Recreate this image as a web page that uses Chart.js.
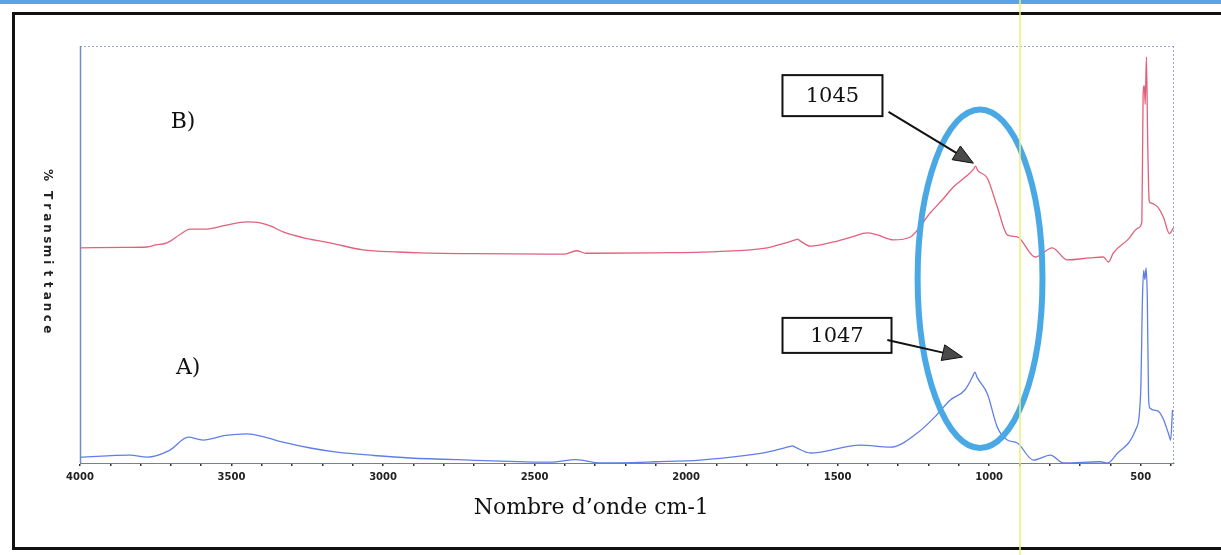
<!DOCTYPE html>
<html>
<head>
<meta charset="utf-8">
<script src="https://cdn.jsdelivr.net/npm/chart.js@4/dist/chart.umd.min.js"></script>
<style>
  html, body { margin: 0; padding: 0; background: #fff; }
  #wrap { width: 1221px; height: 555px; position: relative; }
</style>
</head>
<body>
<div id="wrap"><canvas id="spectre"></canvas></div>
<script>
(function () {
    "use strict";

    // spectre B (rouge)
    var wavenumberB = [4000, 3850, 3779, 3750, 3713, 3670, 3637, 3581, 3520, 3449, 3406, 3370, 3330, 3250, 3175,
        3066, 2950, 2878, 2700, 2448, 2400, 2362, 2330, 2100, 1900, 1732, 1680, 1640, 1633, 1626, 1590, 1514,
        1450, 1402, 1369, 1316, 1260, 1194, 1150, 1118, 1080, 1052, 1045, 1038, 1006, 973, 940, 907, 848, 792,
        742, 666, 623, 606, 590, 543, 507, 496, 492, 488, 485, 481, 477, 472, 468, 455, 444, 425, 405, 392];
    var transB = [51.6, 51.7, 51.8, 52.3, 52.8, 54.8, 56.1, 56.1, 57.0, 57.8, 57.6, 56.8, 55.4, 53.8, 52.8,
        51.1, 50.6, 50.4, 50.2, 50.1, 50.1, 50.9, 50.3, 50.4, 50.7, 51.6, 52.6, 53.5, 53.7, 53.4, 52.0, 53.0,
        54.3, 55.2, 54.7, 53.5, 54.2, 60.0, 63.5, 66.2, 68.5, 70.4, 71.2, 70.2, 68.3, 61.4, 54.7, 54.2, 49.4, 51.6,
        48.7, 49.2, 49.4, 48.2, 50.4, 53.5, 56.4, 57.8, 88.0, 90.5, 86.0, 97.4, 78.0, 63.0, 62.4, 62.0, 61.4,
        59.0, 55.0, 56.4];

    // spectre A (bleu)
    var wavenumberA = [4000, 3835, 3779, 3703, 3643, 3594, 3520, 3449, 3390, 3330, 3240, 3152, 3030, 2911, 2712,
        2448, 2362, 2283, 2100, 1953, 1732, 1660, 1650, 1640, 1590, 1425, 1326, 1237, 1180, 1128, 1080, 1054,
        1047, 1040, 1006, 973, 940, 907, 854, 798, 755, 633, 609, 576, 517, 500, 494, 490, 486, 482, 478, 474,
        470, 444, 425, 408, 401, 395];
    var transA = [1.4, 1.9, 1.4, 3.1, 6.2, 5.5, 6.6, 7.0, 6.2, 5.0, 3.6, 2.6, 1.8, 1.2, 0.7,
        0.2, 0.8, 0.0, 0.3, 0.7, 2.6, 3.9, 4.1, 3.8, 2.4, 4.3, 3.8, 7.2, 11.0, 15.1, 17.5, 20.8,
        21.8, 20.6, 16.6, 8.6, 5.5, 4.8, 0.7, 1.9, 0.0, 0.3, 0.0, 2.4, 7.9, 16.8, 39.8, 46.2, 44.0, 46.8, 39.0,
        16.0, 13.2, 12.5, 10.5, 7.0, 5.5, 12.7];

    var xTickLabels = [4000, 3500, 3000, 2500, 2000, 1500, 1000, 500];
    var xTitle = "Nombre d\u2019onde cm-1";
    var yTitle = "% Transmittance";

    // annotations, en coordonnées (nombre d'onde, valeur)
    var seriesLabels = [
        { text: "B)", wn: 3660, v: 81.8 },
        { text: "A)", wn: 3643, v: 22.8 }
    ];
    var peakBoxes = [
        { text: "1045", wn: 1517, v: 88.1, w: 100, h: 41, from: [1332, 84.2], to: [1052, 71.9] },
        { text: "1047", wn: 1502, v: 30.6, w: 109, h: 35, from: [1336, 29.5], to: [1088, 25.4] }
    ];
    var zone = { wn: 1030, v: 44.2, dwn: 206, dv: 40.6 };

    function toPoints(xs, ys) {
        return xs.map(function (x, i) { return { x: x, y: ys[i] }; });
    }

    var decor = {
        id: "decor",
        beforeDraw: function (chart) {
            var c = chart.ctx;
            c.save();
            c.fillStyle = "#fff";
            c.fillRect(0, 0, chart.width, chart.height);
            c.restore();
        },
        beforeDatasetsDraw: function (chart) {
            var c = chart.ctx, a = chart.chartArea;
            c.save();
            c.lineWidth = 1;
            c.strokeStyle = "#9aa8c8";
            c.setLineDash([2, 2]);
            c.beginPath();
            c.moveTo(a.left, a.top + 0.5);
            c.lineTo(a.right, a.top + 0.5);
            c.moveTo(a.right - 0.5, a.top);
            c.lineTo(a.right - 0.5, a.bottom);
            c.stroke();
            c.setLineDash([]);
            c.lineWidth = 1.5;
            c.strokeStyle = "#6f8cc9";
            c.beginPath();
            c.moveTo(a.left + 0.5, a.top);
            c.lineTo(a.left + 0.5, a.bottom);
            c.stroke();
            c.restore();
        },
        afterDraw: function (chart) {
            var c = chart.ctx, a = chart.chartArea;
            var xs = chart.scales.x, ys = chart.scales.y;
            function px(wn) { return xs.getPixelForValue(wn); }
            function py(v) { return ys.getPixelForValue(v); }

            c.save();

            // ellipse
            var cx = px(zone.wn), cy = py(zone.v);
            var rx = Math.abs(px(zone.wn - zone.dwn) - cx), ry = Math.abs(py(zone.v + zone.dv) - cy);
            c.strokeStyle = "#4aa9e4";
            c.lineWidth = 6;
            c.beginPath();
            c.ellipse(cx, cy, rx, ry, 0, 0, Math.PI * 2);
            c.stroke();

            // A) B)
            c.fillStyle = "#111";
            c.font = "22px 'DejaVu Serif'";
            c.textAlign = "center";
            c.textBaseline = "middle";
            seriesLabels.forEach(function (l) {
                c.fillText(l.text, px(l.wn), py(l.v));
            });

            // boxes + arrows
            peakBoxes.forEach(function (b) {
                var bx = px(b.wn), by = py(b.v);
                c.fillStyle = "#fff";
                c.fillRect(bx - b.w / 2, by - b.h / 2, b.w, b.h);
                c.strokeStyle = "#111";
                c.lineWidth = 2;
                c.strokeRect(bx - b.w / 2, by - b.h / 2, b.w, b.h);
                c.fillStyle = "#111";
                c.font = "21px 'DejaVu Serif'";
                c.fillText(b.text, bx, by + 1);

                var x0 = px(b.from[0]), y0 = py(b.from[1]);
                var x1 = px(b.to[0]), y1 = py(b.to[1]);
                var ang = Math.atan2(y1 - y0, x1 - x0);
                var hl = 20, hw = 8;
                var bxh = x1 - hl * Math.cos(ang), byh = y1 - hl * Math.sin(ang);
                c.strokeStyle = "#111";
                c.lineWidth = 2;
                c.beginPath();
                c.moveTo(x0, y0);
                c.lineTo(bxh, byh);
                c.stroke();
                c.fillStyle = "#4a4a4a";
                c.beginPath();
                c.moveTo(x1, y1);
                c.lineTo(bxh + hw * Math.sin(ang), byh - hw * Math.cos(ang));
                c.lineTo(bxh - hw * Math.sin(ang), byh + hw * Math.cos(ang));
                c.closePath();
                c.fill();
                c.lineWidth = 1;
                c.stroke();
            });

            // titre de l'axe y, lettres empilées
            c.fillStyle = "#222";
            c.font = "bold 12px 'DejaVu Sans'";
            var ty = a.top + 129;
            for (var i = 0; i < yTitle.length; i++) {
                var ch = yTitle[i];
                if (ch !== " ") {
                    c.save();
                    c.translate(a.left - 33, ty);
                    c.rotate(Math.PI / 2);
                    c.fillText(ch, 0, 0);
                    c.restore();
                }
                ty += (i === 0 || ch === " ") ? 10 : 11.2;
            }

            // titre de l'axe x
            c.fillStyle = "#111";
            c.font = "22px 'DejaVu Serif'";
            c.fillText(xTitle, px(2313), a.bottom + 45);

            // cadre extérieur et bandes du scan
            c.strokeStyle = "#111";
            c.lineWidth = 3;
            c.strokeRect(13.5, 13.5, chart.width + 20, chart.height - 20);
            c.fillStyle = "#5aa3e6";
            c.fillRect(0, 0, chart.width, 4);
            c.strokeStyle = "rgba(238, 238, 120, 0.75)";
            c.lineWidth = 2;
            c.beginPath();
            c.moveTo(1020, 0);
            c.lineTo(1020, chart.height);
            c.stroke();

            c.restore();
        }
    };

    new Chart(document.getElementById("spectre"), {
        type: "line",
        data: {
            datasets: [
                {
                    label: "B",
                    data: toPoints(wavenumberB, transB),
                    borderColor: "#e2607c",
                    borderWidth: 1.3,
                    pointRadius: 0,
                    cubicInterpolationMode: "monotone",
                    fill: false
                },
                {
                    label: "A",
                    data: toPoints(wavenumberA, transA),
                    borderColor: "#5f7fe6",
                    borderWidth: 1.3,
                    pointRadius: 0,
                    cubicInterpolationMode: "monotone",
                    fill: false
                }
            ]
        },
        options: {
            responsive: true,
            maintainAspectRatio: false,
            animation: false,
            events: [],
            layout: {
                padding: { left: 80, right: 47, top: 46, bottom: 72 }
            },
            scales: {
                x: {
                    type: "linear",
                    reverse: true,
                    min: 390,
                    max: 4000,
                    afterBuildTicks: function (scale) {
                        var t = [];
                        for (var v = 4000; v >= 400; v -= 100) { t.push({ value: v }); }
                        scale.ticks = t;
                    },
                    afterFit: function (scale) { scale.height = 20; },
                    border: { display: true, color: "#7a7f90", width: 1, dash: [2, 2] },
                    grid: { drawOnChartArea: false, drawTicks: true, tickLength: 3, color: "#333", lineWidth: 1.5 },
                    ticks: {
                        autoSkip: false,
                        maxRotation: 0,
                        padding: 5,
                        color: "#222",
                        font: { family: "'DejaVu Sans'", size: 10, weight: "bold" },
                        callback: function (v) {
                            return xTickLabels.indexOf(v) >= 0 ? String(v) : "";
                        }
                    }
                },
                y: {
                    display: false,
                    min: 0,
                    max: 100
                }
            },
            plugins: {
                legend: { display: false },
                tooltip: { enabled: false }
            }
        },
        plugins: [decor]
    });
})();
</script>
</body>
</html>
